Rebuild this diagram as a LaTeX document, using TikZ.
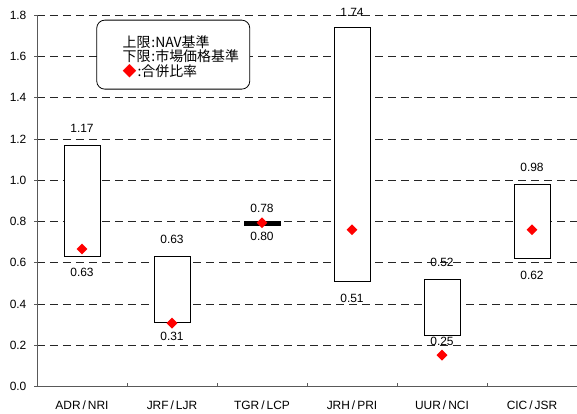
\documentclass[tikz,border=0pt]{standalone}
\usepackage{fontspec}
\setmainfont{Liberation Sans}
\newfontfamily\jpfont{Noto Sans CJK JP}
\usetikzlibrary{shapes.geometric,positioning}
\newcommand{\jsl}{\kern2bp/\kern2bp}

\begin{document}
\begin{tikzpicture}[x=90bp,y=206.5bp,font=\fontsize{12}{14}\selectfont]
    \useasboundingbox (-0.4111,-0.1322) rectangle (6,1.8726);

    % grid and axes
    \begin{scope}[line width=0.7bp]
        \foreach \v in {0.2,0.4,0.6,0.8,1.0,1.2,1.4,1.6,1.8}
            \draw[black!85, dash pattern=on 8bp off 5bp] (0,\v) -- (6,\v);
        \draw[black!65] (0,1.8) -- (0,0) -- (6,0);
        \foreach \v [count=\i] in {0.0,0.2,0.4,0.6,0.8,1.0,1.2,1.4,1.6,1.8} {
            \draw[black!65] (0,\v) -- ++(-3bp,0);
            \node [anchor=east, inner sep=0pt] (yl\i) at (-0.114,\v) {\v};
        }
        \foreach \i in {1,...,6}
            \draw[black!65] (\i,0) -- ++(0,4bp);
    \end{scope}

    % ranges, labels and ratios
    \begin{scope}[every node/.append style={inner sep=0pt}]
        \foreach \nm/\lo/\hi/\r/\tl/\ty/\bl/\by/\fl [count=\i] in {
                ADR\jsl NRI/0.63/1.17/0.667/1.17/1.253/0.63/0.552/white,
                JRF\jsl LJR/0.31/0.63/0.308/0.63/0.714/0.31/0.242/white,
                TGR\jsl LCP/0.78/0.80/0.794/0.78/0.864/0.80/0.726/black,
                JRH\jsl PRI/0.51/1.74/0.760/1.74/1.811/0.51/0.428/white,
                UUR\jsl NCI/0.25/0.52/0.153/0.52/0.600/0.25/0.218/white,
                CIC\jsl JSR/0.62/0.98/0.760/0.98/1.061/0.62/0.541/white} {
            \draw[line width=0.8bp, fill=\fl] (\i-0.7,\lo) rectangle (\i-0.3,\hi);
            \node [diamond, fill=red, minimum size=11bp] (r\i) at (\i-0.5,\r) {};
            \node (top\i) at (\i-0.5,\ty) {\tl};
            \node (bot\i) at (\i-0.5,\by) {\bl};
            \node (cat\i) at (\i-0.5,-0.0886) {\nm};
        }
    \end{scope}

    % legend
    \node [draw, line width=0.8bp, fill=white, rounded corners=8bp,
           minimum width=153bp, minimum height=69bp] (legend) at (1.514,1.608) {};
    \node [anchor=west, inner sep=0pt, align=left,
           font=\jpfont\fontsize{14}{14.7}\selectfont]
        (legtext) at ([xshift=26bp,yshift=-2bp]legend.west)
        {上限\kern1bp:NAV基準\\下限\kern1bp:市場価格基準\\{\color{red}◆}\kern1bp:合併比率};
\end{tikzpicture}
\end{document}
